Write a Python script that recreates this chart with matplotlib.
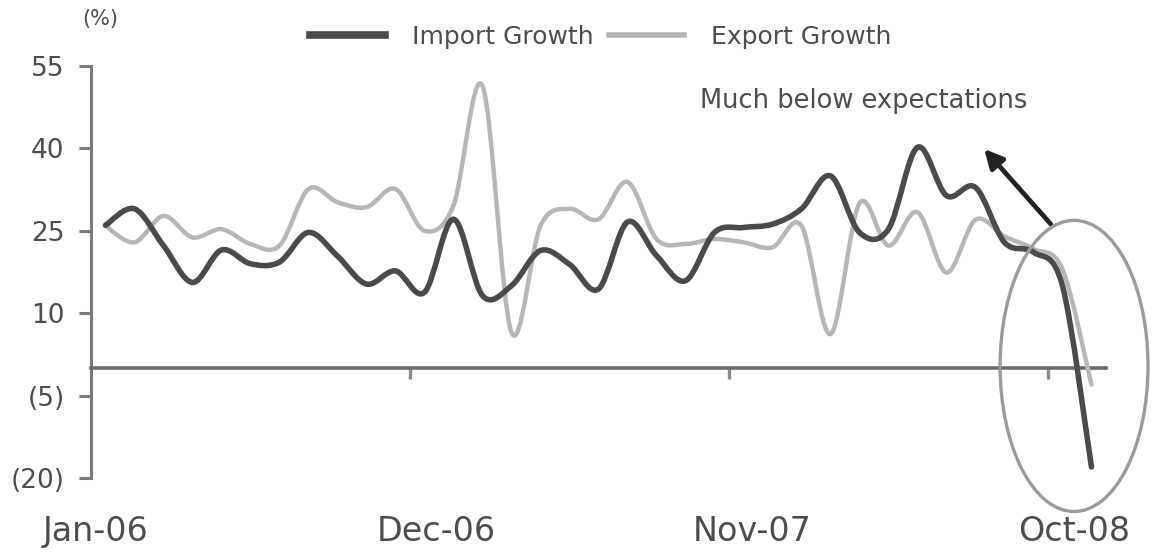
import numpy as np
import matplotlib
matplotlib.use("Agg")
import matplotlib.pyplot as plt
from matplotlib.path import Path
from matplotlib.patches import PathPatch, Ellipse
from matplotlib.lines import Line2D

# monthly y/y growth, Jan-06 .. Nov-08 (%)
import_growth = [26, 29, 22.3, 15.6, 21.5, 19, 19.3, 24.7, 20.4, 15.3, 17.7, 13.8,
                 27.1, 13.2, 15, 21.4, 18.9, 14.4, 26.6, 20.5, 15.9, 24.7, 25.6, 26.2,
                 29, 35, 24.7, 25.3, 40.2, 31.4, 32.9, 22.9, 21.1, 15, -18]
export_growth = [25.9, 22.9, 27.7, 23.8, 25.3, 22.6, 22.3, 32.6, 30.2, 29.3, 32.6, 25,
                 29.6, 51.4, 6.5, 25.9, 29, 27.1, 33.9, 23.5, 22.6, 23.5, 22.9, 22,
                 25.9, 6.2, 30, 22.3, 28.4, 17.4, 27, 24, 21.7, 18, -3]

ytick_vals = [55, 40, 25, 10, -5, -20]
ytick_labels = ["55", "40", "25", "10", "(5)", "(20)"]
xtick_months = [11, 22, 33]
xlabel_text = ["Jan-06", "Dec-06", "Nov-07", "Oct-08"]
xlabel_pos = [0.15, 11.9, 22.8, 33.9]

DARK = "#4a4a4a"
LIGHT = "#b6b6b6"
TEXT = "#4d4d4d"


def smooth_path(x, y):
    # bezier curve through every point, like a spreadsheet "smoothed line"
    pts = np.column_stack([x, y])
    n = len(pts)
    verts = [pts[0]]
    codes = [Path.MOVETO]
    for i in range(n - 1):
        p0 = pts[i - 1] if i > 0 else pts[i]
        p1 = pts[i]
        p2 = pts[i + 1]
        p3 = pts[i + 2] if i + 2 < n else pts[i + 1]
        c1 = p1 + (p2 - p0) / 6.0
        c2 = p2 - (p3 - p1) / 6.0
        verts += [c1, c2, p2]
        codes += [Path.CURVE4] * 3
    return Path(verts, codes)


fig = plt.figure(figsize=(11.53, 5.54), dpi=100)
ax = fig.add_axes([0.0789, 0.1372, 0.8803, 0.7437])

months = np.arange(len(import_growth)) + 0.5

ax.add_patch(PathPatch(smooth_path(months, export_growth), fill=False,
                       edgecolor=LIGHT, lw=3.2, capstyle="round", joinstyle="round", zorder=3))
ax.add_patch(PathPatch(smooth_path(months, import_growth), fill=False,
                       edgecolor=DARK, lw=4.0, capstyle="round", joinstyle="round", zorder=4))

ax.set_xlim(0, len(import_growth))
ax.set_ylim(-20, 55)

for s in ["top", "right"]:
    ax.spines[s].set_visible(False)
ax.spines["bottom"].set_position(("data", 0))
ax.spines["bottom"].set_color("#6a6a6a")
ax.spines["bottom"].set_linewidth(2.6)
ax.spines["left"].set_color("#7a7a7a")
ax.spines["left"].set_linewidth(2.2)

ax.set_yticks(ytick_vals, ytick_labels)
ax.tick_params(axis="y", direction="out", length=9, width=2.2, color="#7a7a7a",
               pad=10, labelsize=19, labelcolor=TEXT)
ax.set_xticks(xtick_months, [""] * len(xtick_months))
ax.tick_params(axis="x", direction="out", length=8, width=2.4, color="#8a8a8a")

for lab, pos in zip(xlabel_text, xlabel_pos):
    ax.text(pos, -0.13, lab, transform=ax.get_xaxis_transform(), ha="center",
            va="center", fontsize=24, color=TEXT, clip_on=False)

fig.text(0.0715, 0.965, "(%)", ha="left", va="center", fontsize=15, color=TEXT)

# annotation: collapse in the latest months
ax.text(21.0, 48.6, "Much below expectations", ha="left", va="center",
        fontsize=18.5, color=TEXT)
ax.annotate("", xy=(30.8, 39.9), xytext=(33.1, 26.2),
            arrowprops=dict(arrowstyle="-|>", color="#222222", lw=3.4,
                            mutation_scale=28, shrinkA=0, shrinkB=0))
ax.add_patch(Ellipse((33.9, 0.4), 5.1, 53, fill=False, edgecolor="#9a9a9a",
                     lw=2.4, clip_on=False, zorder=5))

handles = [Line2D([], [], color=DARK, lw=5.5),
           Line2D([], [], color=LIGHT, lw=4)]
fig.legend(handles, ["Import Growth", "Export Growth"], loc="center",
           bbox_to_anchor=(0.521, 0.933), ncol=2, frameon=False, fontsize=18,
           handlelength=3.0, handletextpad=1.1, columnspacing=0.6,
           labelcolor=TEXT)

fig.savefig("out.png", dpi=100)
